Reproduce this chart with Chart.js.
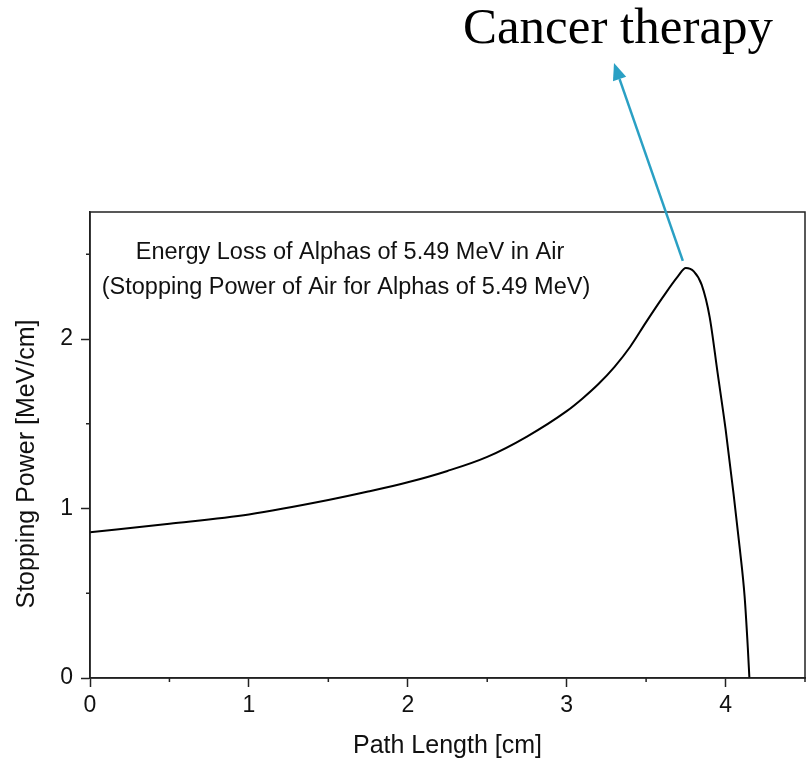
<!DOCTYPE html>
<html>
<head>
<meta charset="utf-8">
<script src="https://cdn.jsdelivr.net/npm/chart.js@4.4.1/dist/chart.umd.min.js"></script>
<style>
  html, body { margin: 0; padding: 0; background: #fff; }
  #wrap { width: 807px; height: 762px; }
</style>
</head>
<body>
<div id="wrap"><canvas id="myChart" width="807" height="762"></canvas></div>
<script>
// Bragg curve: stopping power of air for 5.49 MeV alphas along the path
const pathLength = [0, 0.5, 1, 1.5, 1.75, 2, 2.25, 2.5, 2.75, 3.0, 3.1, 3.2, 3.3, 3.4, 3.5, 3.6, 3.7, 3.75, 3.8, 3.85, 3.9, 3.95, 4.0, 4.05, 4.09, 4.12, 4.14, 4.15];
const stoppingPower = [0.86, 0.91, 0.965, 1.05, 1.10, 1.155, 1.222, 1.305, 1.425, 1.575, 1.65, 1.735, 1.835, 1.955, 2.10, 2.24, 2.37, 2.42, 2.40, 2.32, 2.13, 1.80, 1.47, 1.09, 0.76, 0.48, 0.18, 0];

const xTicks = [0, 1, 2, 3, 4];
const yTicks = [0, 1, 2];
const plotTitle = ['Energy Loss of Alphas of 5.49 MeV in Air', '(Stopping Power of Air for Alphas of 5.49 MeV)'];
const xTitle = 'Path Length [cm]';
const yTitle = 'Stopping Power [MeV/cm]';
const calloutText = 'Cancer therapy';

const sans = '"Liberation Sans", Arial, sans-serif';
const axisColor = '#222';

const isMajor = (v, list) => list.some(t => Math.abs(t - v) < 1e-6);

// frame, minor ticks, in-plot title, axis titles and the callout arrow
const decorations = {
    id: 'decorations',
    afterDraw(chart) {
        const ctx = chart.ctx;
        const area = chart.chartArea;
        const xs = chart.scales.x;
        const ys = chart.scales.y;
        ctx.save();

        ctx.strokeStyle = axisColor;
        ctx.lineWidth = 1.5;
        ctx.strokeRect(area.left, area.top, area.right - area.left, area.bottom - area.top);

        // minor ticks, short and outside
        ctx.beginPath();
        for (let v = 0.5; v <= 4.5 + 1e-6; v += 1) {
            const px = xs.getPixelForValue(v);
            ctx.moveTo(px, area.bottom);
            ctx.lineTo(px, area.bottom + 4);
        }
        for (let v = 0.5; v <= 2.5 + 1e-6; v += 1) {
            const py = ys.getPixelForValue(v);
            ctx.moveTo(area.left, py);
            ctx.lineTo(area.left - 4, py);
        }
        ctx.stroke();

        ctx.fillStyle = '#111';
        ctx.font = '23.5px ' + sans;
        ctx.textAlign = 'center';
        ctx.textBaseline = 'alphabetic';
        ctx.fillText(plotTitle[0], 350, 259);
        ctx.fillText(plotTitle[1], 346, 294);

        ctx.font = '25px ' + sans;
        ctx.fillText(xTitle, (area.left + area.right) / 2, 753);
        ctx.save();
        ctx.translate(34, 464);
        ctx.rotate(-Math.PI / 2);
        ctx.fillText(yTitle, 0, 0);
        ctx.restore();

        // callout
        ctx.font = '51px "Liberation Serif", "Times New Roman", serif';
        ctx.fillStyle = '#000';
        ctx.fillText(calloutText, 618, 43);

        let peak = 0;
        stoppingPower.forEach((v, i) => { if (v > stoppingPower[peak]) peak = i; });
        const sx = xs.getPixelForValue(pathLength[peak]) - 3;
        const sy = ys.getPixelForValue(stoppingPower[peak]) - 7;
        const tx = 614, ty = 63;
        const ang = Math.atan2(ty - sy, tx - sx);
        const headLen = 17, headHalf = 7;
        const bx = tx - headLen * Math.cos(ang);
        const by = ty - headLen * Math.sin(ang);
        ctx.strokeStyle = '#2aa0c4';
        ctx.fillStyle = '#2aa0c4';
        ctx.lineWidth = 2.5;
        ctx.beginPath();
        ctx.moveTo(sx, sy);
        ctx.lineTo(bx, by);
        ctx.stroke();
        ctx.beginPath();
        ctx.moveTo(tx, ty);
        ctx.lineTo(bx + headHalf * Math.sin(ang), by - headHalf * Math.cos(ang));
        ctx.lineTo(bx - headHalf * Math.sin(ang), by + headHalf * Math.cos(ang));
        ctx.closePath();
        ctx.fill();

        ctx.restore();
    }
};

const data = {
    datasets: [{
        data: pathLength.map((x, i) => ({ x, y: stoppingPower[i] })),
        borderColor: '#000',
        borderWidth: 2,
        pointRadius: 0,
        fill: false,
        cubicInterpolationMode: 'monotone'
    }]
};

const myChart = new Chart(document.getElementById('myChart').getContext('2d'), {
    type: 'line',
    data,
    plugins: [decorations],
    options: {
        responsive: false,
        animation: false,
        layout: { padding: { top: 212, right: 2, left: 0, bottom: 0 } },
        plugins: { legend: { display: false }, tooltip: { enabled: false } },
        scales: {
            x: {
                type: 'linear',
                min: 0,
                max: 4.5,
                afterFit: (scale) => { scale.height = 84; scale.paddingRight = 0; },
                border: { display: true, color: axisColor, width: 1.5 },
                grid: {
                    drawOnChartArea: false,
                    tickLength: 9,
                    tickWidth: 1.5,
                    tickColor: (c) => isMajor(c.tick.value, xTicks) ? axisColor : 'rgba(0,0,0,0)'
                },
                ticks: {
                    stepSize: 0.5,
                    maxRotation: 0,
                    autoSkip: false,
                    padding: 5,
                    color: '#111',
                    font: { family: sans, size: 23 },
                    callback: (v) => isMajor(v, xTicks) ? String(v) : ''
                }
            },
            y: {
                type: 'linear',
                min: 0,
                max: 2.75,
                afterFit: (scale) => { scale.width = 90; },
                border: { display: true, color: axisColor, width: 1.5 },
                grid: {
                    drawOnChartArea: false,
                    tickLength: 9,
                    tickWidth: 1.5,
                    tickColor: (c) => isMajor(c.tick.value, yTicks) ? axisColor : 'rgba(0,0,0,0)'
                },
                ticks: {
                    stepSize: 0.5,
                    includeBounds: false,
                    autoSkip: false,
                    padding: 8,
                    color: '#111',
                    font: { family: sans, size: 23 },
                    callback: (v) => isMajor(v, yTicks) ? String(v) : ''
                }
            }
        }
    }
});
</script>
</body>
</html>
